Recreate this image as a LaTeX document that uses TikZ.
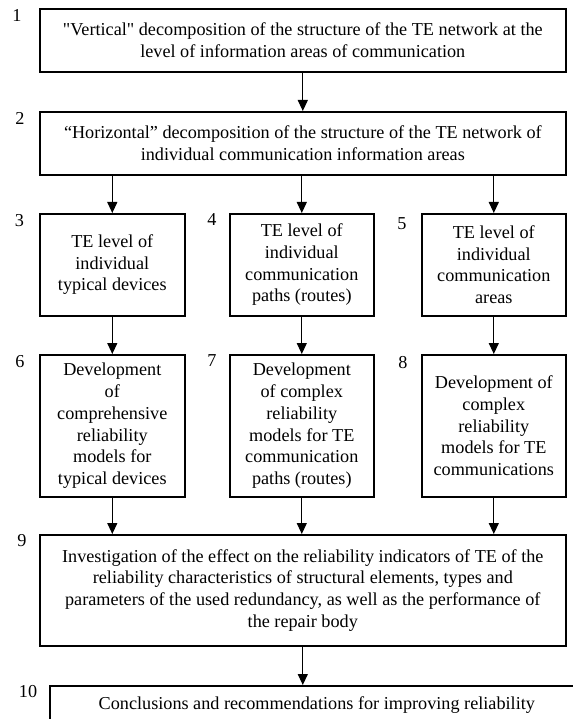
\documentclass[tikz,border=0pt]{standalone}
\usepackage{fontspec}
\setmainfont{Liberation Serif}
\newfontfamily\straightq{Liberation Serif}
\usetikzlibrary{arrows.meta}
\begin{document}
\begin{tikzpicture}[x={(1pt,0pt)}, y={(0pt,-1pt)},
            stage/.style={draw, line width=1.6pt, anchor=north west, align=center, inner sep=0pt, font=\fontsize{18.2}{21.7}\selectfont},
            num/.style={inner sep=0pt, font=\fontsize{18.2}{21.7}\selectfont},
            link/.style={line width=1.2pt, -{Triangle[length=11pt,width=10pt]}}]
            \useasboundingbox (0,0) rectangle (572,719);
            \node[stage, minimum width=526pt, minimum height=63pt]  (stage1)  at (39,8)    {{\straightq"}Vertical{\straightq"} decomposition of the structure of the TE network at the\\level of information areas of communication};
            \node[stage, minimum width=526pt, minimum height=63pt]  (stage2)  at (39,111)  {“Horizontal” decomposition of the structure of the TE network of\\individual communication information areas};
            \node[stage, minimum width=145pt, minimum height=102pt] (stage3)  at (39,213)  {TE level of\\individual\\typical devices};
            \node[stage, minimum width=144pt, minimum height=102pt] (stage4)  at (229,213) {TE level of\\individual\\communication\\paths (routes)};
            \node[stage, minimum width=144pt, minimum height=102pt] (stage5)  at (421,213) {TE level of\\individual\\communication\\areas};
            \node[stage, minimum width=145pt, minimum height=142pt] (stage6)  at (39,354)  {Development\\of\\comprehensive\\reliability\\models for\\typical devices};
            \node[stage, minimum width=144pt, minimum height=142pt] (stage7)  at (229,354) {Development\\of complex\\reliability\\models for TE\\communication\\paths (routes)};
            \node[stage, minimum width=144pt, minimum height=142pt] (stage8)  at (421,354) {Development of\\complex\\reliability\\models for TE\\communications};
            \node[stage, minimum width=526pt, minimum height=111pt] (stage9)  at (39,534)  {Investigation of the effect on the reliability indicators of TE of the\\reliability characteristics of structural elements, types and\\parameters of the used redundancy, as well as the performance of\\the repair body};
            \node[stage, minimum width=534pt, minimum height=38pt]  (stage10) at (49,685)  {Conclusions and recommendations for improving reliability};

            \node[num] (num1)  at (17,15)   {1};
            \node[num] (num2)  at (20,118)  {2};
            \node[num] (num3)  at (19.5,221) {3};
            \node[num] (num4)  at (212,220) {4};
            \node[num] (num5)  at (402,224) {5};
            \node[num] (num6)  at (20,362)  {6};
            \node[num] (num7)  at (212,361) {7};
            \node[num] (num8)  at (403,363) {8};
            \node[num] (num9)  at (22,541)  {9};
            \node[num] (num10) at (28,692)  {10};

            \draw[link] (stage1.south) -- (stage2.north);
            \draw[link] (stage2.south -| stage3.north) -- (stage3.north);
            \draw[link] (stage2.south -| stage4.north) -- (stage4.north);
            \draw[link] (stage2.south -| stage5.north) -- (stage5.north);
            \draw[link] (stage3.south) -- (stage6.north);
            \draw[link] (stage4.south) -- (stage7.north);
            \draw[link] (stage5.south) -- (stage8.north);
            \draw[link] (stage6.south) -- (stage9.north -| stage6.south);
            \draw[link] (stage7.south) -- (stage9.north -| stage7.south);
            \draw[link] (stage8.south) -- (stage9.north -| stage8.south);
            \draw[link] (stage9.south) -- (stage9.south |- stage10.north);
        \end{tikzpicture}
\end{document}
